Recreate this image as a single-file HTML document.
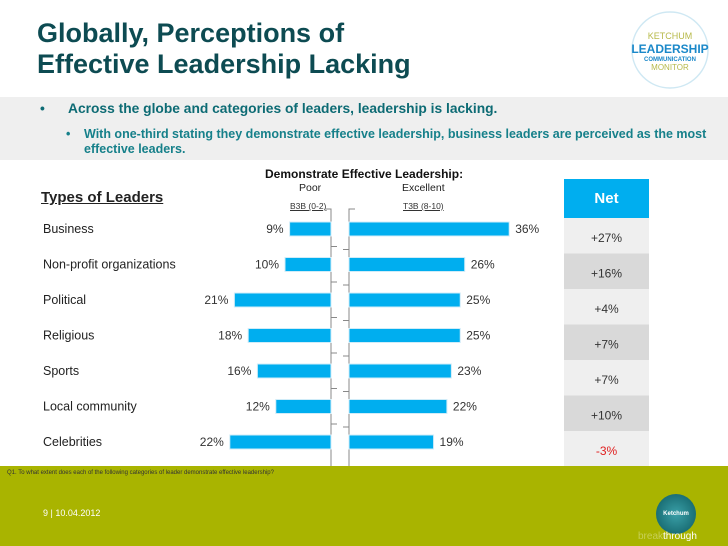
<!DOCTYPE html>
<html><head><meta charset="utf-8"><style>
body{margin:0;width:728px;height:546px;overflow:hidden;background:#fff;font-family:"Liberation Sans",sans-serif;position:relative}
.a{position:absolute}
.t{font-family:"Liberation Sans Narrow","Liberation Sans",sans-serif}
</style></head><body>
<div class="a t" style="left:37px;top:18px;font-size:27px;font-weight:bold;color:#0d4b52;line-height:31px">Globally, Perceptions of<br>Effective Leadership Lacking</div>
<svg class="a" style="left:622px;top:6px" width="96" height="88"><circle cx="48" cy="44" r="38" fill="none" stroke="#cfe8f3" stroke-width="1.5"/><text x="48" y="33" font-size="9" fill="#b7b94a" text-anchor="middle" font-family="Liberation Sans">KETCHUM</text><text x="48" y="47" font-size="12" font-weight="bold" fill="#1a88c9" text-anchor="middle" font-family="Liberation Sans">LEADERSHIP</text><text x="48" y="55" font-size="6" font-weight="bold" fill="#1a88c9" text-anchor="middle" font-family="Liberation Sans">COMMUNICATION</text><text x="48" y="64" font-size="8" fill="#b7b94a" text-anchor="middle" font-family="Liberation Sans">MONITOR</text></svg>
<div class="a" style="left:0;top:97px;width:728px;height:63px;background:#efefef"></div>
<div class="a t" style="left:40px;top:101px;font-size:13.8px;font-weight:bold;color:#0d6b74">•<span style="position:absolute;left:28px;white-space:nowrap">Across the globe and categories of leaders, leadership is lacking.</span></div>
<div class="a t" style="left:66px;top:127px;font-size:12.5px;font-weight:bold;color:#16808a;line-height:15px;width:650px">•<span style="position:absolute;left:18px;width:628px">With one-third stating they demonstrate effective leadership, business leaders are perceived as the most effective leaders.</span></div>
<div class="a t" style="left:265px;top:167px;font-size:12px;font-weight:bold;color:#111">Demonstrate Effective Leadership:</div>
<div class="a t" style="left:299px;top:182px;font-size:10.5px;color:#222">Poor</div>
<div class="a t" style="left:402px;top:182px;font-size:10.5px;color:#222">Excellent</div>
<div class="a t" style="left:290px;top:201px;font-size:8.5px;color:#333;text-decoration:underline">B3B (0-2)</div>
<div class="a t" style="left:403px;top:201px;font-size:8.5px;color:#333;text-decoration:underline">T3B (8-10)</div>
<div class="a t" style="left:41px;top:189px;font-size:15px;font-weight:bold;color:#222;text-decoration:underline">Types of Leaders</div>
<div class="a t" style="left:564px;top:179px;width:85px;height:39px;background:#00aeef;color:#fff;font-size:15px;font-weight:bold;text-align:center;line-height:39px">Net</div>
<svg id="chart" class="a" style="left:0;top:0" width="728" height="546"></svg>
<div class="a" style="left:0;top:466px;width:728px;height:80px;background:#a9b400"></div>
<div class="a t" style="left:7px;top:470px;font-size:6px;color:#333">Q1. To what extent does each of the following categories of leader demonstrate effective leadership?</div>
<div class="a" style="left:43px;top:508px;font-size:9px;color:#fff">9 | 10.04.2012</div>
<div class="a" style="left:656px;top:494px;width:40px;height:40px;border-radius:50%;background:radial-gradient(circle,#3aa0a8,#0d5a60);color:#fff;font-size:6px;font-weight:bold;text-align:center;line-height:40px">Ketchum</div>
<div class="a" style="left:638px;top:531px;font-size:10px;color:#fff"><span style="color:#c7cf55">break</span>through</div>
<script>
const categories=["Business","Non-profit organizations","Political","Religious","Sports","Local community","Celebrities"];
const poor=[9,10,21,18,16,12,22];
const excellent=[36,26,25,25,23,22,19];
const net=[27,16,4,7,7,10,-3];
const svg=document.getElementById('chart');
const NS='http://www.w3.org/2000/svg';
const x0L=331,x0R=349,kL=4.6,kR=4.45,y0=229,dy=35.5,bh=14;
const xL=v=>x0L-v*kL, xR=v=>x0R+v*kR, yC=i=>y0+i*dy;
function mk(t,a){const e=document.createElementNS(NS,t);for(const k in a)e.setAttribute(k,a[k]);svg.appendChild(e);return e;}
let ax=mk('path',{d:`M${x0L-6} 209 H${x0L} V473 H${x0L+6} M${x0R+6} 209 H${x0R} V473 H${x0R-6}`,fill:'none',stroke:'#888','stroke-width':1});

for(let i=0;i<categories.length-1;i++){const y=yC(i)+17.5;
 const tk=mk('path',{d:`M${x0L} ${y} h6 M${x0R} ${y+3} h-6`,stroke:'#888','stroke-width':1});
 }
categories.forEach((c,i)=>{
 const y=yC(i);
 const lab=mk('text',{x:43,y:y+4,'font-size':12.5,fill:'#222','font-family':'Liberation Sans'});lab.textContent=c;
 
 const bl=mk('rect',{x:xL(poor[i]),y:y-bh/2,width:x0L-xL(poor[i]),height:bh,fill:'#00aeef',stroke:'#d0ecf8','stroke-width':1});
 
 const br=mk('rect',{x:x0R,y:y-bh/2,width:xR(excellent[i])-x0R,height:bh,fill:'#00aeef',stroke:'#d0ecf8','stroke-width':1});
 
 const tl=mk('text',{x:xL(poor[i])-6,y:y+4,'font-size':12,fill:'#333','text-anchor':'end','font-family':'Liberation Sans'});tl.textContent=poor[i]+'%';
 
 const tr=mk('text',{x:xR(excellent[i])+6,y:y+4,'font-size':12,fill:'#333','font-family':'Liberation Sans'});tr.textContent=excellent[i]+'%';
 
 const cy=218+i*35.5;
 const nc=mk('rect',{x:564,y:cy,width:85,height:35.5,fill:i%2?'#d9d9d9':'#efefef'});
 
 const nt=mk('text',{x:606.5,y:cy+24,'font-size':12,fill:net[i]<0?'#e02020':'#333','text-anchor':'middle','font-family':'Liberation Sans'});
 nt.textContent=(net[i]>=0?'+':'')+net[i]+'%';
 
});
</script>
</body></html>
